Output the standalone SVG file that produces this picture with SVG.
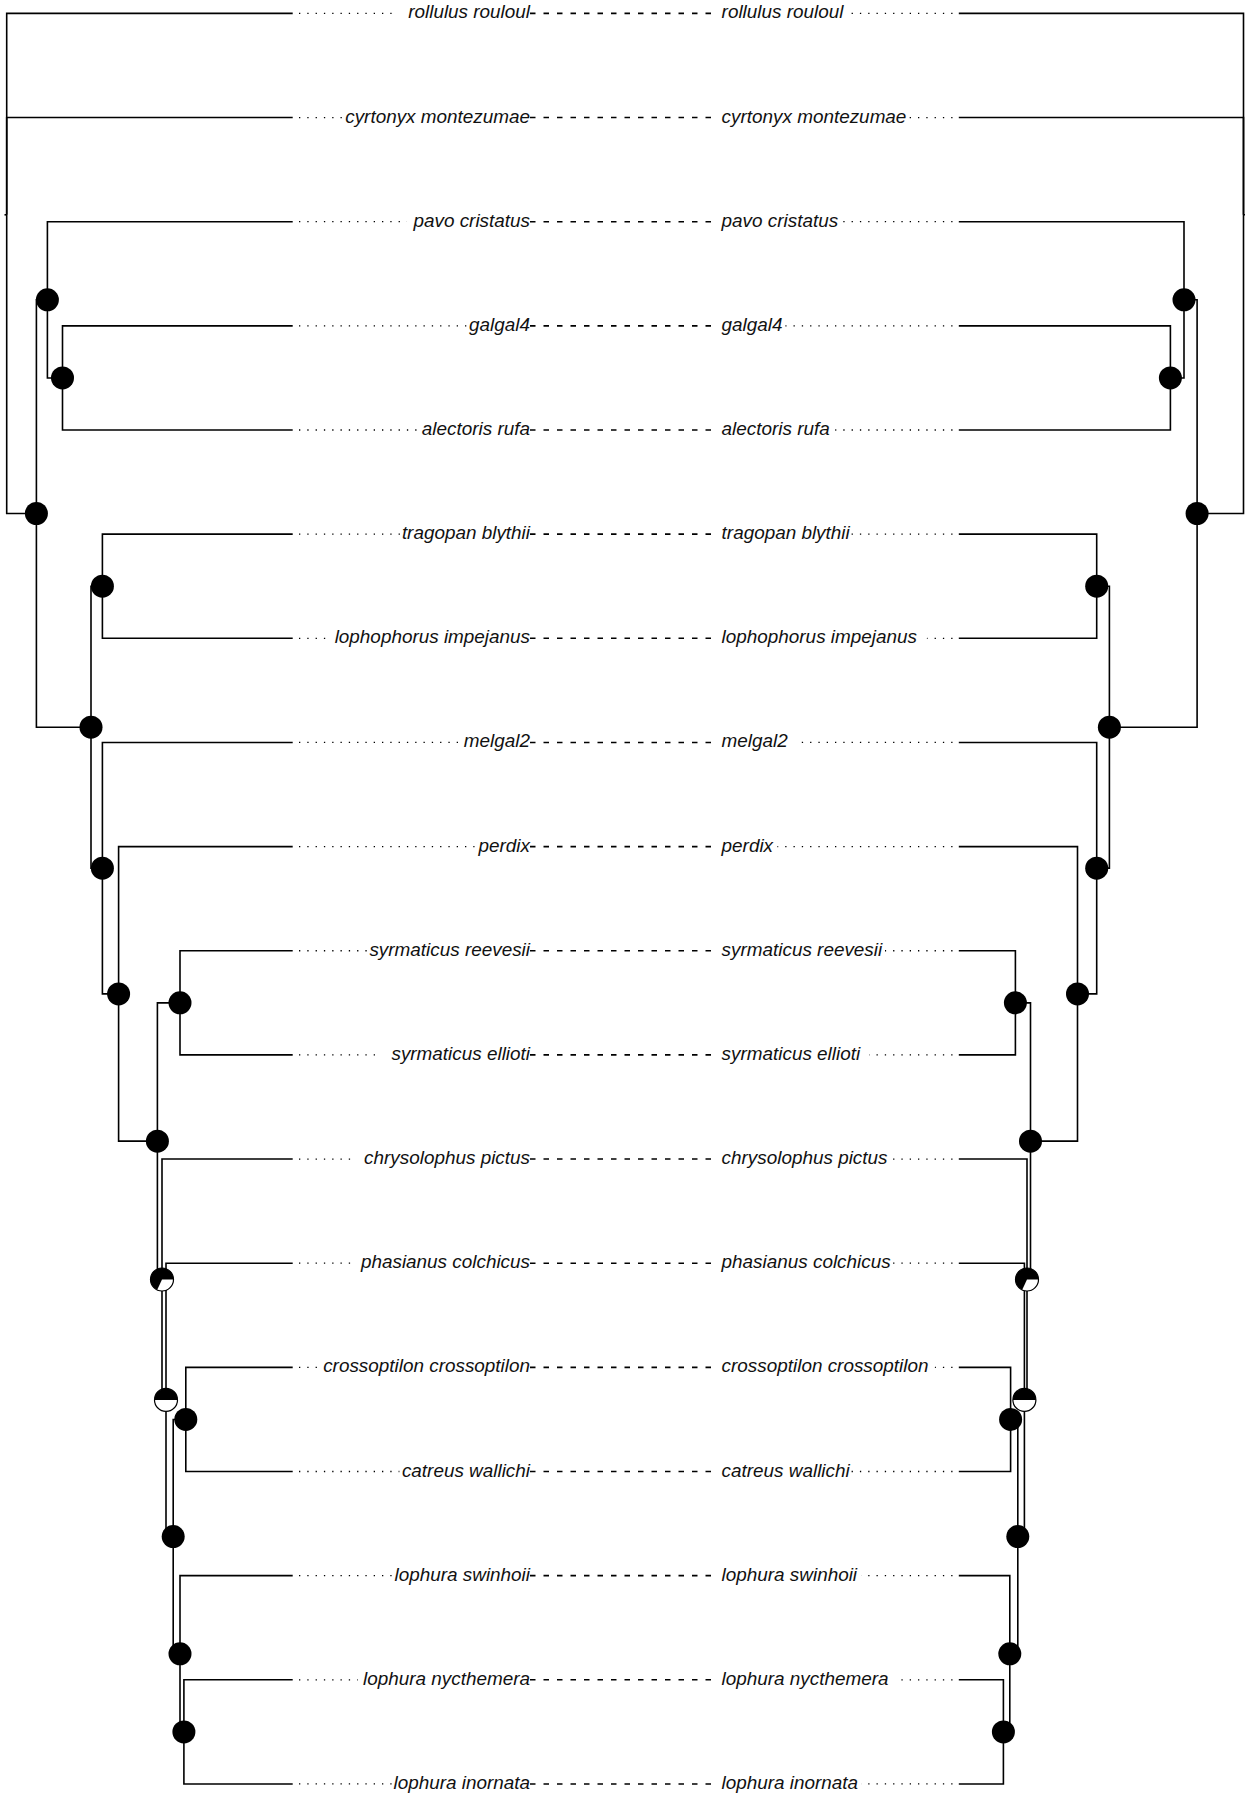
<svg xmlns="http://www.w3.org/2000/svg" width="1245" height="1793" viewBox="0 0 1245 1793">
<style>
.br{fill:none;stroke:#000;stroke-width:1.6}
.dot{fill:none;stroke:#000;stroke-width:1.3;stroke-dasharray:1.3 7}
.dash{fill:none;stroke:#000;stroke-width:1.6;stroke-dasharray:5.5 8}
.lbl{font-family:"Liberation Sans",Arial,sans-serif;font-style:italic;font-size:18.9px;fill:#111}
.l{text-anchor:end}
.r{text-anchor:start}
.nd{fill:#000}
.wh{fill:#fff}
.ol{fill:none;stroke:#000;stroke-width:1.2}
</style>
<rect width="1245" height="1793" fill="#fff"/>
<g id="connectors">
<g id="left-tree">
<path class="br" d="M4.5 214.8H6.7"/>
<path class="br" d="M6.7 214.8V13.4H292.7"/>
<path class="br" d="M6.7 214.8V117.55H292.7"/>
<path class="br" d="M6.7 214.8V513.5H36.4"/>
<path class="br" d="M36.4 513.5V299.81H47.4"/>
<path class="br" d="M36.4 513.5V727.2H91"/>
<path class="br" d="M47.4 299.81V221.7H292.7"/>
<path class="br" d="M47.4 299.81V377.93H62.5"/>
<path class="br" d="M62.5 377.93V325.85H292.7"/>
<path class="br" d="M62.5 377.93V430H292.7"/>
<path class="br" d="M91 727.2V586.23H102.4"/>
<path class="br" d="M91 727.2V868.16H102.4"/>
<path class="br" d="M102.4 586.23V534.15H292.7"/>
<path class="br" d="M102.4 586.23V638.3H292.7"/>
<path class="br" d="M102.4 868.16V742.45H292.7"/>
<path class="br" d="M102.4 868.16V993.88H118.6"/>
<path class="br" d="M118.6 993.88V846.6H292.7"/>
<path class="br" d="M118.6 993.88V1141.15H157.4"/>
<path class="br" d="M157.4 1141.15V1002.83H180"/>
<path class="br" d="M157.4 1141.15V1279.48H162"/>
<path class="br" d="M180 1002.83V950.75H292.7"/>
<path class="br" d="M180 1002.83V1054.9H292.7"/>
<path class="br" d="M162 1279.48V1159.05H292.7"/>
<path class="br" d="M162 1279.48V1399.9H166"/>
<path class="br" d="M166 1399.9V1263.2H292.7"/>
<path class="br" d="M166 1399.9V1536.6H173.2"/>
<path class="br" d="M173.2 1536.6V1419.43H185.8"/>
<path class="br" d="M173.2 1536.6V1653.76H180"/>
<path class="br" d="M185.8 1419.43V1367.35H292.7"/>
<path class="br" d="M185.8 1419.43V1471.5H292.7"/>
<path class="br" d="M180 1653.76V1575.65H292.7"/>
<path class="br" d="M180 1653.76V1731.88H183.9"/>
<path class="br" d="M183.9 1731.88V1679.8H292.7"/>
<path class="br" d="M183.9 1731.88V1783.95H292.7"/>
</g>
<g id="right-tree">
<path class="br" d="M1245 214.8H1243.5"/>
<path class="br" d="M1243.5 214.8V13.4H958.8"/>
<path class="br" d="M1243.5 214.8V117.55H958.8"/>
<path class="br" d="M1243.5 214.8V513.5H1197.1"/>
<path class="br" d="M1197.1 513.5V299.81H1184"/>
<path class="br" d="M1197.1 513.5V727.2H1109.4"/>
<path class="br" d="M1184 299.81V221.7H958.8"/>
<path class="br" d="M1184 299.81V377.93H1170.4"/>
<path class="br" d="M1170.4 377.93V325.85H958.8"/>
<path class="br" d="M1170.4 377.93V430H958.8"/>
<path class="br" d="M1109.4 727.2V586.23H1096.7"/>
<path class="br" d="M1109.4 727.2V868.16H1096.7"/>
<path class="br" d="M1096.7 586.23V534.15H958.8"/>
<path class="br" d="M1096.7 586.23V638.3H958.8"/>
<path class="br" d="M1096.7 868.16V742.45H958.8"/>
<path class="br" d="M1096.7 868.16V993.88H1077.5"/>
<path class="br" d="M1077.5 993.88V846.6H958.8"/>
<path class="br" d="M1077.5 993.88V1141.15H1030.5"/>
<path class="br" d="M1030.5 1141.15V1002.83H1015.4"/>
<path class="br" d="M1030.5 1141.15V1279.48H1027"/>
<path class="br" d="M1015.4 1002.83V950.75H958.8"/>
<path class="br" d="M1015.4 1002.83V1054.9H958.8"/>
<path class="br" d="M1027 1279.48V1159.05H958.8"/>
<path class="br" d="M1027 1279.48V1399.9H1024.4"/>
<path class="br" d="M1024.4 1399.9V1263.2H958.8"/>
<path class="br" d="M1024.4 1399.9V1536.6H1017.8"/>
<path class="br" d="M1017.8 1536.6V1419.43H1010.6"/>
<path class="br" d="M1017.8 1536.6V1653.76H1009.8"/>
<path class="br" d="M1010.6 1419.43V1367.35H958.8"/>
<path class="br" d="M1010.6 1419.43V1471.5H958.8"/>
<path class="br" d="M1009.8 1653.76V1575.65H958.8"/>
<path class="br" d="M1009.8 1653.76V1731.88H1003.4"/>
<path class="br" d="M1003.4 1731.88V1679.8H958.8"/>
<path class="br" d="M1003.4 1731.88V1783.95H958.8"/>
</g>
<g id="leader-dots">
<path class="dot" d="M299 13.4H398M952.5 13.4H851.2"/>
<path class="dot" d="M299 117.55H344M952.5 117.55H909"/>
<path class="dot" d="M299 221.7H407M952.5 221.7H843"/>
<path class="dot" d="M299 325.85H466.6M952.5 325.85H785.4"/>
<path class="dot" d="M299 430H419M952.5 430H835.2"/>
<path class="dot" d="M299 534.15H401M952.5 534.15H851.2"/>
<path class="dot" d="M299 638.3H326M952.5 638.3H926.9"/>
<path class="dot" d="M299 742.45H458.7M952.5 742.45H795.4"/>
<path class="dot" d="M299 846.6H474.5M952.5 846.6H777.4"/>
<path class="dot" d="M299 950.75H367.7M952.5 950.75H885"/>
<path class="dot" d="M299 1054.9H381.6M952.5 1054.9H869.1"/>
<path class="dot" d="M299 1159.05H355.9M952.5 1159.05H893"/>
<path class="dot" d="M299 1263.2H355.9M952.5 1263.2H893"/>
<path class="dot" d="M299 1367.35H318.3M952.5 1367.35H934.9"/>
<path class="dot" d="M299 1471.5H399.4M952.5 1471.5H851.2"/>
<path class="dot" d="M299 1575.65H393.4M952.5 1575.65H861.1"/>
<path class="dot" d="M299 1679.8H357.8M952.5 1679.8H897"/>
<path class="dot" d="M299 1783.95H393.4M952.5 1783.95H861.1"/>
</g>
<g id="tangle-links">
<path class="dash" d="M530 13.4H712"/>
<path class="dash" d="M530 117.55H712"/>
<path class="dash" d="M530 221.7H712"/>
<path class="dash" d="M530 325.85H712"/>
<path class="dash" d="M530 430H712"/>
<path class="dash" d="M530 534.15H712"/>
<path class="dash" d="M530 638.3H712"/>
<path class="dash" d="M530 742.45H712"/>
<path class="dash" d="M530 846.6H712"/>
<path class="dash" d="M530 950.75H712"/>
<path class="dash" d="M530 1054.9H712"/>
<path class="dash" d="M530 1159.05H712"/>
<path class="dash" d="M530 1263.2H712"/>
<path class="dash" d="M530 1367.35H712"/>
<path class="dash" d="M530 1471.5H712"/>
<path class="dash" d="M530 1575.65H712"/>
<path class="dash" d="M530 1679.8H712"/>
<path class="dash" d="M530 1783.95H712"/>
</g>
</g>
<g id="leaves" class="lbl">
<g id="leaf-rollulus-rouloul"><text class="l" x="530" y="18.4">rollulus rouloul</text><text class="r" x="721.6" y="18.4">rollulus rouloul</text></g>
<g id="leaf-cyrtonyx-montezumae"><text class="l" x="530" y="122.55">cyrtonyx montezumae</text><text class="r" x="721.6" y="122.55">cyrtonyx montezumae</text></g>
<g id="leaf-pavo-cristatus"><text class="l" x="530" y="226.7">pavo cristatus</text><text class="r" x="721.6" y="226.7">pavo cristatus</text></g>
<g id="leaf-galgal4"><text class="l" x="530" y="330.85">galgal4</text><text class="r" x="721.6" y="330.85">galgal4</text></g>
<g id="leaf-alectoris-rufa"><text class="l" x="530" y="435">alectoris rufa</text><text class="r" x="721.6" y="435">alectoris rufa</text></g>
<g id="leaf-tragopan-blythii"><text class="l" x="530" y="539.15">tragopan blythii</text><text class="r" x="721.6" y="539.15">tragopan blythii</text></g>
<g id="leaf-lophophorus-impejanus"><text class="l" x="530" y="643.3">lophophorus impejanus</text><text class="r" x="721.6" y="643.3">lophophorus impejanus</text></g>
<g id="leaf-melgal2"><text class="l" x="530" y="747.45">melgal2</text><text class="r" x="721.6" y="747.45">melgal2</text></g>
<g id="leaf-perdix"><text class="l" x="530" y="851.6">perdix</text><text class="r" x="721.6" y="851.6">perdix</text></g>
<g id="leaf-syrmaticus-reevesii"><text class="l" x="530" y="955.75">syrmaticus reevesii</text><text class="r" x="721.6" y="955.75">syrmaticus reevesii</text></g>
<g id="leaf-syrmaticus-ellioti"><text class="l" x="530" y="1059.9">syrmaticus ellioti</text><text class="r" x="721.6" y="1059.9">syrmaticus ellioti</text></g>
<g id="leaf-chrysolophus-pictus"><text class="l" x="530" y="1164.05">chrysolophus pictus</text><text class="r" x="721.6" y="1164.05">chrysolophus pictus</text></g>
<g id="leaf-phasianus-colchicus"><text class="l" x="530" y="1268.2">phasianus colchicus</text><text class="r" x="721.6" y="1268.2">phasianus colchicus</text></g>
<g id="leaf-crossoptilon-crossoptilon"><text class="l" x="530" y="1372.35">crossoptilon crossoptilon</text><text class="r" x="721.6" y="1372.35">crossoptilon crossoptilon</text></g>
<g id="leaf-catreus-wallichi"><text class="l" x="530" y="1476.5">catreus wallichi</text><text class="r" x="721.6" y="1476.5">catreus wallichi</text></g>
<g id="leaf-lophura-swinhoii"><text class="l" x="530" y="1580.65">lophura swinhoii</text><text class="r" x="721.6" y="1580.65">lophura swinhoii</text></g>
<g id="leaf-lophura-nycthemera"><text class="l" x="530" y="1684.8">lophura nycthemera</text><text class="r" x="721.6" y="1684.8">lophura nycthemera</text></g>
<g id="leaf-lophura-inornata"><text class="l" x="530" y="1788.95">lophura inornata</text><text class="r" x="721.6" y="1788.95">lophura inornata</text></g>
</g>
<g id="left-nodes">
<g id="L-A"><circle class="nd" cx="36.4" cy="513.5" r="11.5"/></g>
<g id="L-pavo"><circle class="nd" cx="47.4" cy="299.81" r="11.5"/></g>
<g id="L-galgal"><circle class="nd" cx="62.5" cy="377.93" r="11.5"/></g>
<g id="L-B"><circle class="nd" cx="91" cy="727.2" r="11.5"/></g>
<g id="L-TL"><circle class="nd" cx="102.4" cy="586.23" r="11.5"/></g>
<g id="L-C"><circle class="nd" cx="102.4" cy="868.16" r="11.5"/></g>
<g id="L-D"><circle class="nd" cx="118.6" cy="993.88" r="11.5"/></g>
<g id="L-E"><circle class="nd" cx="157.4" cy="1141.15" r="11.5"/></g>
<g id="L-SY"><circle class="nd" cx="180" cy="1002.83" r="11.5"/></g>
<g id="L-P1"><circle class="nd" cx="162" cy="1279.48" r="11.5"/><path class="wh" d="M162 1279.48L173.5 1279.48A11.5 11.5 0 0 1 157.14 1289.9Z"/><circle class="ol" cx="162" cy="1279.48" r="11.5"/></g>
<g id="L-P2"><circle class="nd" cx="166" cy="1399.9" r="11.5"/><path class="wh" d="M154.5 1399.9A11.5 11.5 0 0 0 177.5 1399.9Z"/><circle class="ol" cx="166" cy="1399.9" r="11.5"/></g>
<g id="L-Q"><circle class="nd" cx="173.2" cy="1536.6" r="11.5"/></g>
<g id="L-CC"><circle class="nd" cx="185.8" cy="1419.43" r="11.5"/></g>
<g id="L-R"><circle class="nd" cx="180" cy="1653.76" r="11.5"/></g>
<g id="L-S"><circle class="nd" cx="183.9" cy="1731.88" r="11.5"/></g>
</g>
<g id="right-nodes">
<g id="R-A"><circle class="nd" cx="1197.1" cy="513.5" r="11.5"/></g>
<g id="R-pavo"><circle class="nd" cx="1184" cy="299.81" r="11.5"/></g>
<g id="R-galgal"><circle class="nd" cx="1170.4" cy="377.93" r="11.5"/></g>
<g id="R-B"><circle class="nd" cx="1109.4" cy="727.2" r="11.5"/></g>
<g id="R-TL"><circle class="nd" cx="1096.7" cy="586.23" r="11.5"/></g>
<g id="R-C"><circle class="nd" cx="1096.7" cy="868.16" r="11.5"/></g>
<g id="R-D"><circle class="nd" cx="1077.5" cy="993.88" r="11.5"/></g>
<g id="R-E"><circle class="nd" cx="1030.5" cy="1141.15" r="11.5"/></g>
<g id="R-SY"><circle class="nd" cx="1015.4" cy="1002.83" r="11.5"/></g>
<g id="R-P1"><circle class="nd" cx="1027" cy="1279.48" r="11.5"/><path class="wh" d="M1027 1279.48L1038.5 1279.48A11.5 11.5 0 0 1 1022.14 1289.9Z"/><circle class="ol" cx="1027" cy="1279.48" r="11.5"/></g>
<g id="R-P2"><circle class="nd" cx="1024.4" cy="1399.9" r="11.5"/><path class="wh" d="M1012.9 1399.9A11.5 11.5 0 0 0 1035.9 1399.9Z"/><circle class="ol" cx="1024.4" cy="1399.9" r="11.5"/></g>
<g id="R-Q"><circle class="nd" cx="1017.8" cy="1536.6" r="11.5"/></g>
<g id="R-CC"><circle class="nd" cx="1010.6" cy="1419.43" r="11.5"/></g>
<g id="R-R"><circle class="nd" cx="1009.8" cy="1653.76" r="11.5"/></g>
<g id="R-S"><circle class="nd" cx="1003.4" cy="1731.88" r="11.5"/></g>
</g>
</svg>
